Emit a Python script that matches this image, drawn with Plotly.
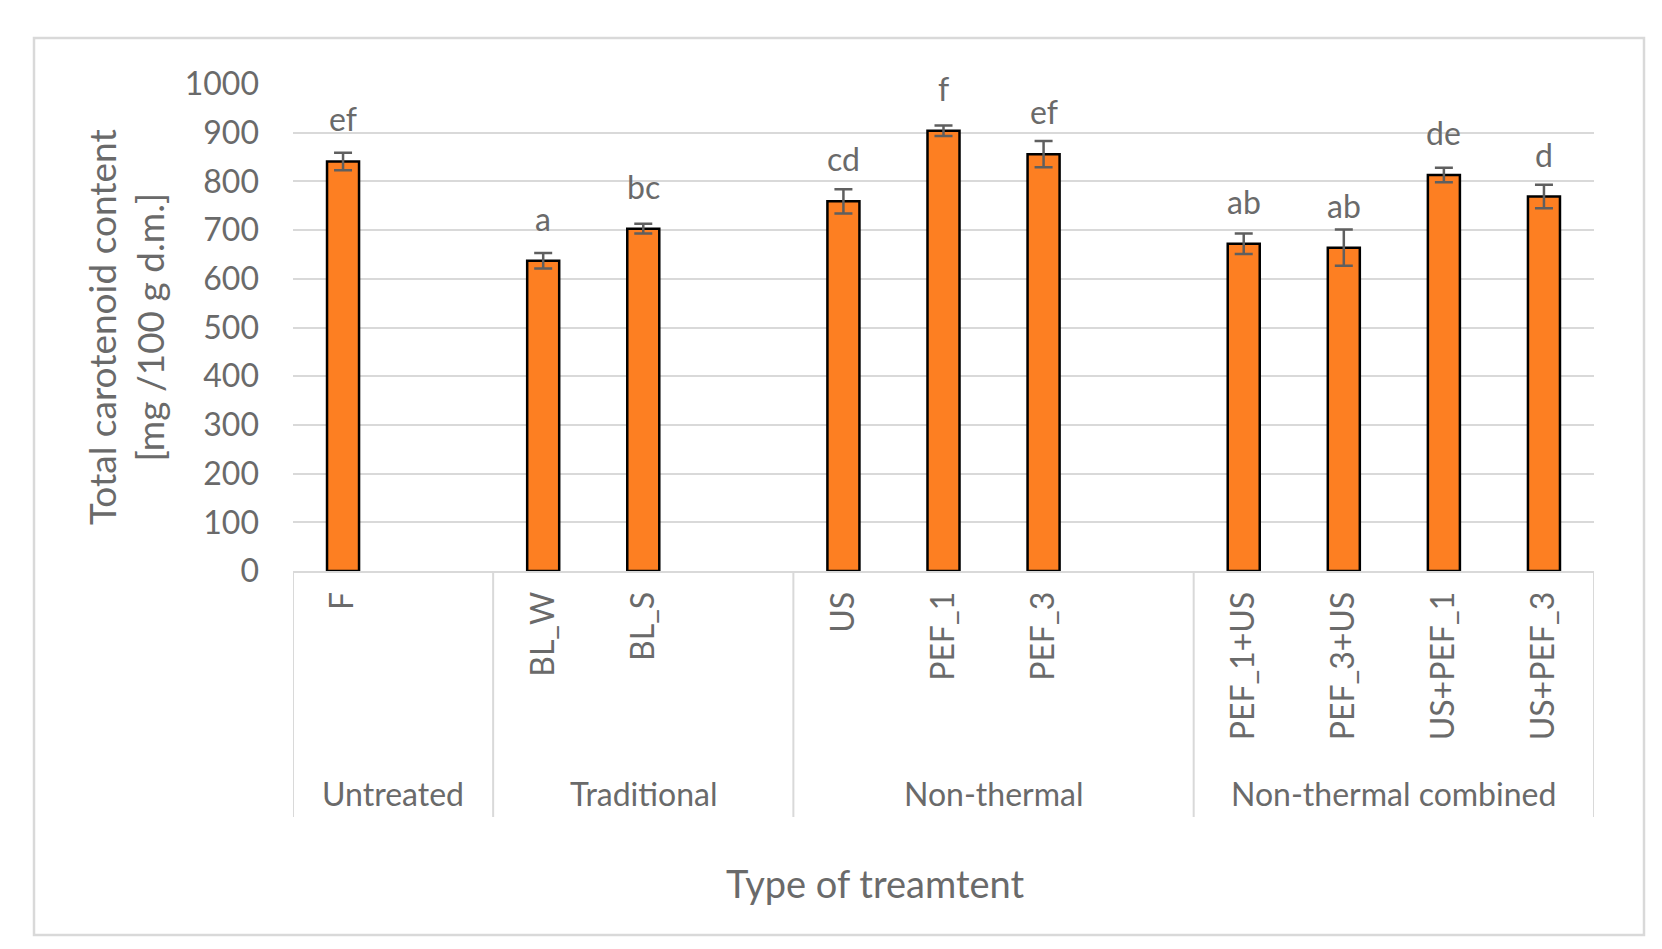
import plotly.graph_objects as go

# ---- data ----
groups = ["Untreated", "Traditional", "Non-thermal", "Non-thermal combined"]
treatments = ["F", "BL_W", "BL_S", "US", "PEF_1", "PEF_3",
              "PEF_1+US", "PEF_3+US", "US+PEF_1", "US+PEF_3"]
treatment_group = [0, 1, 1, 2, 2, 2, 3, 3, 3, 3]
values = [841, 637, 703, 759, 904, 856, 672, 664, 813, 769]
errors = [18, 16, 10, 25, 11, 27, 21, 37, 15, 24]
letters = ["ef", "a", "bc", "cd", "f", "ef", "ab", "ab", "de", "d"]
y_ticks = [0, 100, 200, 300, 400, 500, 600, 700, 800, 900, 1000]

# ---- layout constants ----
W, H = 1662, 949
L, R, T, B = 285, 1586, 76, 563
FONT = "Lato"
TXT = "#6a6a6a"
GRID = "#d9d9d9"
FS = 32
FS_TITLE = 37

# slot positions: each group followed by one empty slot (except the last)
positions = []
bounds = [-0.5]
pos = 0
for gi, g in enumerate(groups):
    members = [i for i, t in enumerate(treatment_group) if t == gi]
    for _ in members:
        positions.append(pos)
        pos += 1
    if gi < len(groups) - 1:
        pos += 1
    bounds.append(pos - 0.5)
n_slots = pos


def px_x(p):
    return (p - L) / (R - L)


def px_y(p):
    return (B - p) / (B - T)


fig = go.Figure()
fig.add_trace(go.Bar(
    x=positions, y=values, width=0.32,
    marker=dict(color="#FD7F22", line=dict(color="#000000", width=2.5)),
    error_y=dict(type="data", array=errors, color="#5f5f5f", thickness=2.5, width=9),
    showlegend=False,
))

annotations = []
for x, v, lab in zip(positions, values, letters):
    annotations.append(dict(x=x, y=v, text=lab, showarrow=False, xref="x", yref="y",
                            xanchor="center", yanchor="bottom", yshift=21,
                            font=dict(family=FONT, size=FS, color=TXT)))

shapes = []
for b in bounds:
    shapes.append(dict(type="line", xref="x", yref="paper", x0=b, x1=b,
                       y0=0, y1=px_y(809), line=dict(color=GRID, width=2)))
for gi, g in enumerate(groups):
    c = (bounds[gi] + bounds[gi + 1]) / 2
    annotations.append(dict(x=c, y=px_y(785), xref="x", yref="paper", text=g,
                            showarrow=False, xanchor="center", yanchor="middle",
                            font=dict(family=FONT, size=FS, color=TXT)))

# chart border
shapes.append(dict(type="rect", xref="paper", yref="paper",
                   x0=px_x(26), x1=px_x(1636), y0=px_y(927), y1=px_y(30),
                   line=dict(color=GRID, width=2.5), layer="below"))

# axis titles
annotations.append(dict(x=px_x(117), y=px_y(319), xref="paper", yref="paper",
                        text="Total carotenoid content<br>[mg /100 g d.m.]",
                        textangle=-90, showarrow=False,
                        xanchor="center", yanchor="middle",
                        font=dict(family=FONT, size=FS_TITLE, color=TXT)))
annotations.append(dict(x=px_x(867), y=px_y(875), xref="paper", yref="paper",
                        text="Type of treamtent", showarrow=False,
                        xanchor="center", yanchor="middle",
                        font=dict(family=FONT, size=38, color=TXT)))

fig.update_layout(
    width=W, height=H,
    margin=dict(l=L, r=W - R, t=T, b=H - B, pad=0),
    plot_bgcolor="white", paper_bgcolor="white",
    font=dict(family=FONT, size=FS, color=TXT),
    xaxis=dict(range=[-0.5, n_slots - 0.5], tickvals=positions, ticktext=treatments,
               tickangle=-90, showgrid=False, zeroline=False, showline=True,
               linecolor=GRID, linewidth=2, ticks="", ticklabelstandoff=6,
               tickfont=dict(family=FONT, size=FS, color=TXT)),
    yaxis=dict(range=[0, 1000], tickvals=y_ticks, showgrid=True, gridcolor=GRID,
               gridwidth=2, zeroline=False, showline=False, ticks="",
               ticklabelstandoff=33, tickfont=dict(family=FONT, size=FS, color=TXT)),
    shapes=shapes, annotations=annotations,
)

fig.write_html("out.html")
